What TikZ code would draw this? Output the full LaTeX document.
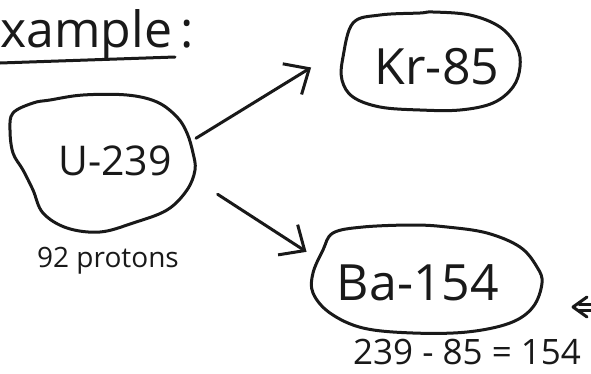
\documentclass[tikz,border=0pt]{standalone}
\usepackage{fontspec}
\setmainfont{Open Sans}
\usetikzlibrary{arrows.meta,shapes.geometric}
\begin{document}
\begin{tikzpicture}[x=1pt,y=-1pt,
  ink/.style={line width=3pt, line cap=round, line join=round, draw=black!90},
  hand/.style={font=\fontsize{#1}{#1}\selectfont, inner sep=0pt, text=black!90},
  area/.style={shape=ellipse, inner sep=0pt, draw=none},
  arr/.style={ink, -{Straight Barb[length=20pt,width=36pt,line width=3pt]}}]
\useasboundingbox (0,0) rectangle (591,373);
\clip (0,0) rectangle (591,373);
% heading
\node[hand=50, anchor=base west] (ex) at (0,47) {xample\,:};
\draw[ink] (0,63) -- (175,57);
% U-239
\node[area, minimum width=187pt, minimum height=137pt] (u) at (103,163) {};
\draw[ink] plot[smooth cycle, tension=0.6] coordinates {(13,113) (33,103) (50,100) (83,95) (127,95) (157,102) (177,117) (187,133) (193,153) (195,170) (187,190) (167,210) (133,223) (100,232) (67,228) (43,213) (33,190) (23,170) (13,153) (10,130)};
\node[hand=41, anchor=base] (ut) at (115,175) {U-239};
\node[hand=28, anchor=base] (pr) at (108,267) {92 protons};
% Kr-85
\node[area, minimum width=178pt, minimum height=98pt] (kr) at (431,61) {};
\draw[ink] plot[smooth cycle, tension=0.6] coordinates {(353,23) (380,15) (420,13) (433,12) (470,15) (500,27) (517,47) (520,67) (513,87) (493,103) (460,110) (420,110) (380,107) (353,97) (342,80) (343,57)};
\node[hand=50, anchor=base] (krt) at (437,84) {Kr-85};
% Ba-154
\node[area, minimum width=230pt, minimum height=108pt] (ba) at (427,279) {};
\draw[ink] plot[smooth cycle, tension=0.6] coordinates {(333,233) (363,227) (413,225) (447,227) (487,233) (520,247) (537,267) (542,283) (533,307) (510,323) (467,332) (413,333) (363,328) (330,313) (313,293) (313,273) (323,250)};
\node[hand=50, anchor=base] (bat) at (418,300) {Ba-154};
\node[hand=35, anchor=base] (eq) at (467,364) {239 - 85 = 154};
% arrows
\draw[arr, shorten <=5pt, shorten >=41pt] (u.14) -- (kr.170);
\draw[arr, shorten <=28pt, shorten >=15pt] (u.-10) -- (ba.170);
% cropped double arrow at the right edge
\draw[ink] (587,297) -- (573,307) -- (587,317);
\draw[ink] (579,304) -- (591,304);
\draw[ink] (579,310) -- (591,310);
\end{tikzpicture}
\end{document}
